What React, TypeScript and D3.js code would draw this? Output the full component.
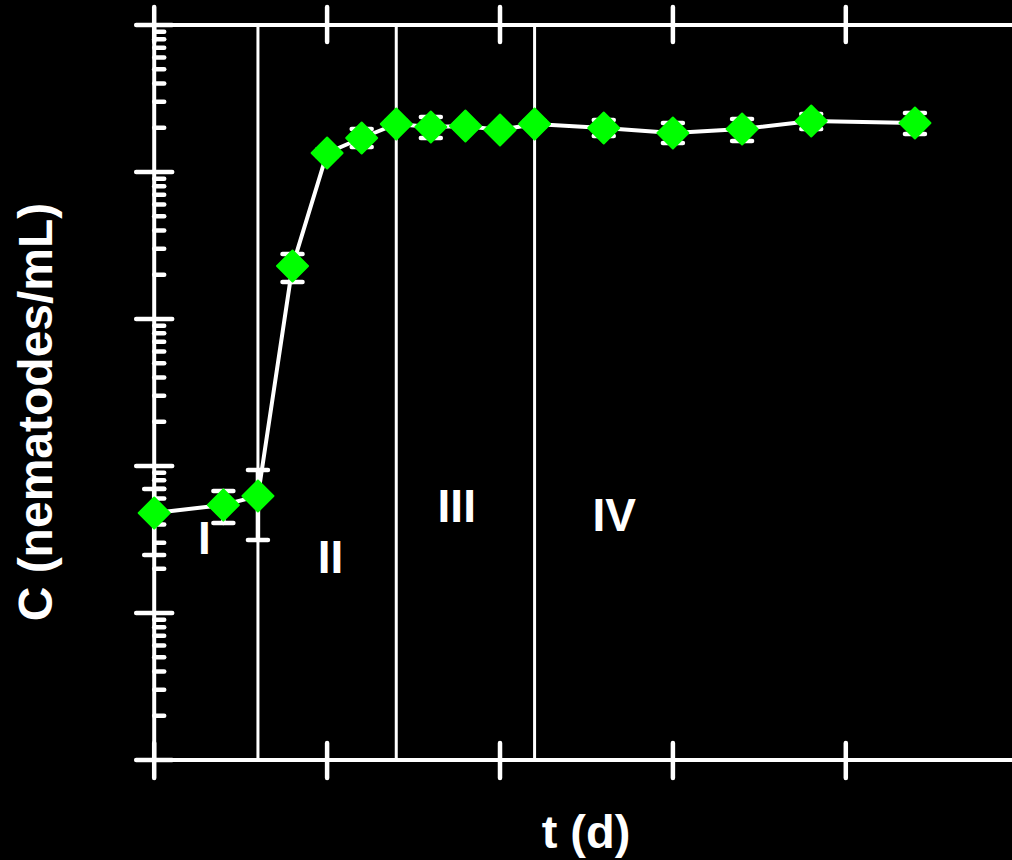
import * as d3 from 'd3';

// sampling days and mean concentration (nematodes/mL), log axis
const days = [0, 2, 3, 4, 5, 6, 7, 8, 9, 10, 11, 13, 15, 17, 19, 22];
const conc = [47.9, 54.3, 62.5, 2294, 13470, 17030, 21220, 20240, 20560, 19300, 21220, 19920, 18420, 19630, 22230, 21540];
const errLow = [24.8, 41.0, 31.4, 1785, 12800, 14790, 20200, 17030, 19600, 18400, 20200, 17580, 15740, 16250, 19630, 18140];
const errHigh = [69.8, 67.6, 93.9, 2767, 14200, 19630, 22300, 23660, 21500, 20200, 22300, 22570, 21540, 22950, 24820, 25190];

// growth phase boundaries (days) and phase names
const phaseBounds = [3, 7, 11];
const phaseLabels = ['I', 'II', 'III', 'IV'];
const phaseLabelT = [1.45, 5.1, 8.75, 13.3];
const phaseLabelC = [25.2, 18.7, 41.7, 36.1];

const xTicks = [0, 5, 10, 15, 20, 25];

export default function App() {
  const width = 1012;
  const height = 860;
  const font = 'Arial, "Liberation Sans", sans-serif';

  const x = d3.scaleLinear().domain([0, 25]).range([154.2, 1018.7]);
  const y = d3.scaleLog().domain([1, 1e5]).range([760, 25]);

  const decades = d3.range(0, 6).map(e => Math.pow(10, e));
  const minors: number[] = [];
  decades.slice(0, -1).forEach(d => {
    for (let k = 2; k <= 9; k++) minors.push(d * k);
  });

  const line = d3.line<number>()
    .x((_, i) => x(days[i]))
    .y(d => y(d));

  const diamond = d3.symbol().type(d3.symbolSquare).size(480)();

  const x0 = x(0);
  const top = y(1e5);
  const bottom = y(1);
  const sw = 4.5;

  return (
    <svg width={width} height={height} style={{ position: 'absolute', left: 0, top: 0, display: 'block' }}>
      <rect width={width} height={height} fill="#000" />

      {/* frame */}
      <g stroke="#fff" strokeWidth={4} fill="none">
        <line x1={x0} x2={x(25)} y1={top} y2={top} />
        <line x1={x0} x2={x(25)} y1={bottom} y2={bottom} />
        <line x1={x0} x2={x0} y1={top} y2={bottom} />
      </g>

      {/* phase boundaries */}
      {phaseBounds.map(t => (
        <line key={t} x1={x(t)} x2={x(t)} y1={top} y2={bottom} stroke="#fff" strokeWidth={3} />
      ))}

      {/* y ticks */}
      <g stroke="#fff" strokeWidth={sw} strokeLinecap="round">
        {decades.map(d => (
          <line key={'M' + d} x1={x0 - 18} x2={x0 + 18} y1={y(d)} y2={y(d)} />
        ))}
        {minors.map(d => (
          <line key={'m' + d} x1={x0} x2={x0 + 10} y1={y(d)} y2={y(d)} />
        ))}
      </g>

      {/* x ticks, top and bottom */}
      <g stroke="#fff" strokeWidth={sw} strokeLinecap="round">
        {xTicks.map(t => (
          <g key={t}>
            <line x1={x(t)} x2={x(t)} y1={top - 18} y2={top + 17} />
            <line x1={x(t)} x2={x(t)} y1={bottom - 17} y2={bottom + 18} />
          </g>
        ))}
      </g>

      {/* data line */}
      <path d={line(conc) || ''} fill="none" stroke="#fff" strokeWidth={4} />

      {/* error bars */}
      <g stroke="#fff" strokeWidth={sw} strokeLinecap="round">
        {days.map((t, i) => (
          <g key={t}>
            <line x1={x(t)} x2={x(t)} y1={y(errLow[i])} y2={y(errHigh[i])} />
            <line x1={x(t) - 10} x2={x(t) + 10} y1={y(errLow[i])} y2={y(errLow[i])} />
            <line x1={x(t) - 10} x2={x(t) + 10} y1={y(errHigh[i])} y2={y(errHigh[i])} />
          </g>
        ))}
      </g>

      {/* markers */}
      {days.map((t, i) => (
        <path
          key={t}
          d={diamond || ''}
          transform={`translate(${x(t)},${y(conc[i])}) rotate(45)`}
          fill="#00ff00"
          stroke="#00ff00"
          strokeWidth={2}
          strokeLinejoin="round"
        />
      ))}

      {/* phase labels */}
      {phaseLabels.map((s, i) => (
        <text
          key={s}
          x={x(phaseLabelT[i])}
          y={y(phaseLabelC[i])}
          textAnchor="middle"
          fill="#fff"
          fontFamily={font}
          fontWeight="bold"
          fontSize={46}
        >
          {s}
        </text>
      ))}

      {/* axis titles */}
      <text
        x={586}
        y={848}
        textAnchor="middle"
        fill="#fff"
        fontFamily={font}
        fontWeight="bold"
        fontSize={47}
      >
        t (d)
      </text>
      <text
        transform={`translate(52, 412) rotate(-90)`}
        textAnchor="middle"
        fill="#fff"
        fontFamily={font}
        fontWeight="bold"
        fontSize={48}
      >
        C (nematodes/mL)
      </text>
    </svg>
  );
}
